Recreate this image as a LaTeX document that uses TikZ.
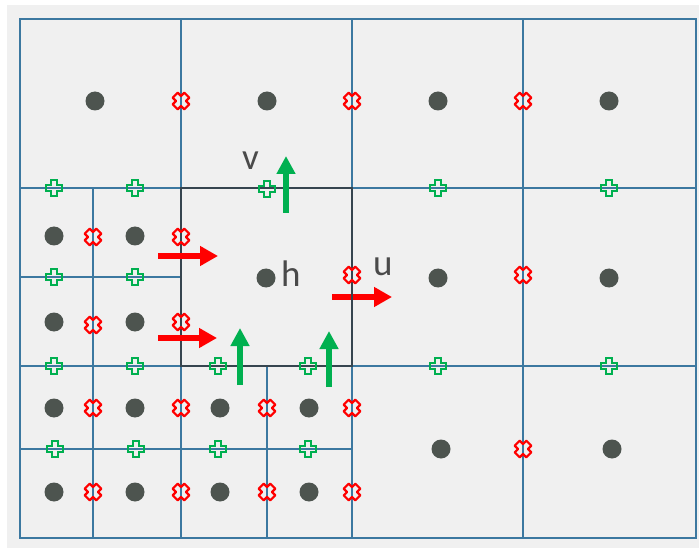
\documentclass[tikz,border=0pt]{standalone}
\usepackage{fontspec}
\setmainfont{Carlito}
\usetikzlibrary{arrows.meta}
\definecolor{bgc}{HTML}{F0F0F0}
\definecolor{gridc}{HTML}{3C78A0}
\definecolor{cellc}{HTML}{36454F}
\definecolor{dotc}{HTML}{4D544F}
\definecolor{ured}{HTML}{FF0000}
\definecolor{vgreen}{HTML}{00B050}
\definecolor{txtc}{HTML}{4A4A4A}
\begin{document}
\begin{tikzpicture}[x=1pt,y=-1pt,
  gridline/.style={draw=gridc, line width=1.5pt},
  cellline/.style={draw=cellc, line width=2.4pt},
  hdot/.style={circle, fill=dotc, minimum size=19pt, inner sep=0pt},
  lbl/.style={text=txtc, inner sep=0pt, font=\fontsize{37pt}{40pt}\selectfont},
  redarrow/.style={draw=ured, line width=6pt, -{Triangle[length=18pt,width=19pt]}},
  greenarrow/.style={draw=vgreen, line width=6pt, -{Triangle[length=18pt,width=18pt]}},
  pics/vplus/.style={code={
    \draw[vgreen, line width=2.2pt, line join=miter]
      (-3,-8) -- (3,-8) -- (3,-3) -- (8,-3) -- (8,3) -- (3,3) -- (3,8)
      -- (-3,8) -- (-3,3) -- (-8,3) -- (-8,-3) -- (-3,-3) -- cycle;}},
  pics/ucross/.style={code={
    \draw[ured, line width=2.2pt, line join=round, rotate=45]
      (-3.5,-8.2) -- (3.5,-8.2) -- (3.5,-3.5) -- (8.2,-3.5) -- (8.2,3.5) -- (3.5,3.5) -- (3.5,8.2)
      -- (-3.5,8.2) -- (-3.5,3.5) -- (-8.2,3.5) -- (-8.2,-3.5) -- (-3.5,-3.5) -- cycle;}}
]
\useasboundingbox (0,0) rectangle (699,548);
\fill[white] (0,0) rectangle (699,548);
\fill[bgc] (7,5) rectangle (699,548);

% u arrow drawn beneath the grid
\coordinate (ua3s) at (332,297);
\coordinate (ua3e) at (392,297);
\draw[redarrow] (ua3s) -- (ua3e);

% grid
\draw[gridline] (20,19) rectangle (696,538);
\foreach \x in {181,352,523} \draw[gridline] (\x,19) -- (\x,538);
\foreach \y in {188,366} \draw[gridline] (20,\y) -- (696,\y);
\draw[gridline] (93,188) -- (93,538);
\draw[gridline] (267,366) -- (267,538);
\draw[gridline] (20,277) -- (181,277);
\draw[gridline] (20,449) -- (352,449);
\draw[cellline] (181,188) rectangle (352,366);

% v points
\foreach \x/\y in {54/188,135/188,267/189,438/188,609/188,
                   54/277,135/277,
                   54/366,135/366,218/366,308/366,438/366,609/366,
                   55/449,136/449,218/449,308/449}
  \pic at (\x,\y) {vplus};

% u points
\foreach \x/\y in {181/101,352/101,523/101,
                   352/275,523/275,
                   93/237,181/237,93/325,181/322,
                   93/408,181/408,267/408,352/408,
                   93/492,181/492,267/492,352/492,
                   523/449}
  \pic at (\x,\y) {ucross};

% h points
\node[hdot] (c11) at (95,101) {};
\node[hdot] (c12) at (267,101) {};
\node[hdot] (c13) at (438,101) {};
\node[hdot] (c14) at (609,101) {};
\node[hdot] (c22) at (266,278) {};
\node[hdot] (c23) at (438,278) {};
\node[hdot] (c24) at (609,278) {};
\node[hdot] (c33) at (441,449) {};
\node[hdot] (c34) at (612,449) {};
\node[hdot] (f11) at (54,236) {};
\node[hdot] (f12) at (135,236) {};
\node[hdot] (f21) at (54,322) {};
\node[hdot] (f22) at (135,322) {};
\node[hdot] (f31) at (54,408) {};
\node[hdot] (f32) at (135,408) {};
\node[hdot] (f33) at (220,408) {};
\node[hdot] (f34) at (309,408) {};
\node[hdot] (f41) at (54,492) {};
\node[hdot] (f42) at (135,492) {};
\node[hdot] (f43) at (220,492) {};
\node[hdot] (f44) at (309,492) {};

% arrows
\coordinate (ua1s) at (158,256);
\coordinate (ua1e) at (218,256);
\coordinate (ua2s) at (158,338);
\coordinate (ua2e) at (217,338);
\draw[redarrow] (ua1s) -- (ua1e);
\draw[redarrow] (ua2s) -- (ua2e);
\coordinate (va1s) at (286,213);
\coordinate (va1e) at (286,156);
\coordinate (va2s) at (240,385);
\coordinate (va2e) at (240,328);
\coordinate (va3s) at (329,387);
\coordinate (va3e) at (329,331);
\draw[greenarrow] (va1s) -- (va1e);
\draw[greenarrow] (va2s) -- (va2e);
\draw[greenarrow] (va3s) -- (va3e);

% labels
\node[lbl, anchor=base west] (vl) at (242,170) {v};
\node[lbl, anchor=base west] (hl) at (281,287) {h};
\node[lbl, anchor=base west] (ul) at (373,276) {u};
\end{tikzpicture}
\end{document}
